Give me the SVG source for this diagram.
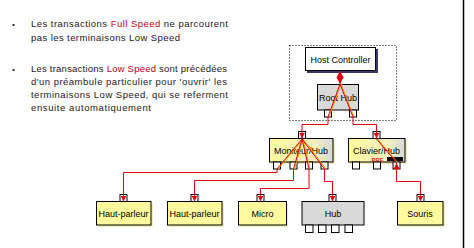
<svg xmlns="http://www.w3.org/2000/svg" width="474" height="248" viewBox="0 0 474 248">
<style>
.body{font-family:"Liberation Sans",Arial,sans-serif;font-size:9.5px;fill:#1a1a1a}
.hl{fill:#c00018}
.lbl{font-family:"Liberation Sans",Arial,sans-serif;font-size:9px;fill:#000;text-anchor:middle}
.node{stroke:#000;stroke-width:1}
.yel{fill:#fffa9e}
.gray{fill:#d9d9d9}
.shy{fill:#f3edbc}
.port{fill:#fff;stroke:#000;stroke-width:1}
.wire{fill:none;stroke:#e00010;stroke-width:1}
.fan{fill:none;stroke:#ff9a00;stroke-width:1}
</style>
<defs>
<linearGradient id="yg" x1="0" y1="0" x2="1" y2="0">
<stop offset="0" stop-color="#fffa9e"/>
<stop offset="0.7" stop-color="#f4f0c0"/>
<stop offset="1" stop-color="#d8d8d8"/>
</linearGradient>
<marker id="ah" viewBox="0 0 6 6" refX="6" refY="3" markerWidth="6" markerHeight="6" markerUnits="userSpaceOnUse" orient="auto">
<path d="M0,0 L6,3 L0,6 z" fill="#e00010"/>
</marker>
<marker id="ahs" viewBox="0 0 6 6" refX="0" refY="3" markerWidth="6" markerHeight="6" markerUnits="userSpaceOnUse" orient="auto">
<path d="M6,0 L0,3 L6,6 z" fill="#e00010"/>
</marker>
</defs>
<rect width="474" height="248" fill="#fff"/>
<line x1="463.5" y1="0" x2="463.5" y2="248" stroke="#000" stroke-width="1.5"/>

<g id="text">
<rect x="12.5" y="24" width="2" height="2" fill="#333"/>
<rect x="12.5" y="69" width="2" height="2" fill="#333"/>
<text class="body" x="31" y="27" textLength="197" lengthAdjust="spacing">Les transactions <tspan class="hl">Full Speed</tspan> ne parcourent</text>
<text class="body" x="31" y="40.5" textLength="149" lengthAdjust="spacing">pas les terminaisons Low Speed</text>
<text class="body" x="31" y="71.5" textLength="196" lengthAdjust="spacing">Les transactions <tspan class="hl">Low Speed</tspan> sont précédées</text>
<text class="body" x="31" y="84.5" textLength="196" lengthAdjust="spacing">d'un préambule particulier pour 'ouvrir' les</text>
<text class="body" x="31" y="97.5" textLength="197" lengthAdjust="spacing">terminaisons Low Speed, qui se referment</text>
<text class="body" x="31" y="110.5" textLength="120" lengthAdjust="spacing">ensuite automatiquement</text>
</g>

<rect x="289.5" y="45.5" width="107" height="75" fill="none" stroke="#000" stroke-width="1" stroke-dasharray="1,2"/>

<g id="host-controller">
<rect x="307" y="49" width="71" height="24" fill="#3a3a6a"/>
<rect class="node" x="305.5" y="47.5" width="70" height="23" fill="#fff"/>
<text class="lbl" x="340.5" y="62.5">Host Controller</text>
</g>

<g id="root-hub">
<rect class="node gray" x="317.5" y="84.5" width="41" height="25.5"/>
<text class="lbl" x="338" y="100.5">Root Hub</text>
<rect class="port" x="324.5" y="110" width="7" height="7"/>
<rect class="port" x="349.5" y="110" width="7" height="7"/>
</g>

<g id="moniteur-hub">
<rect class="shy" x="271" y="140" width="64" height="24"/>
<rect class="node" x="269.5" y="138.5" width="63.5" height="23.5" fill="url(#yg)"/>
<text class="lbl" x="301" y="153.5">Moniteur/Hub</text>
<rect class="port" x="298.5" y="131.5" width="7" height="7"/>
<rect class="port" x="273.5" y="162" width="7" height="7"/>
<rect class="port" x="290" y="162" width="7" height="7"/>
<rect class="port" x="305.5" y="162" width="7" height="7"/>
<rect class="port" x="321" y="162" width="7" height="7"/>
</g>

<g id="clavier-hub">
<rect class="shy" x="350" y="140" width="57" height="24"/>
<rect class="node" x="348.5" y="138.5" width="56.5" height="23.5" fill="url(#yg)"/>
<text class="lbl" x="376.5" y="153.5">Clavier/Hub</text>
<rect x="387" y="157" width="16" height="4" fill="#000"/>
<text x="371.5" y="161.5" font-family="Liberation Sans,Arial,sans-serif" font-size="6" font-weight="bold" fill="#e03020">PRE</text>
<rect class="port" x="373" y="131.5" width="7" height="7"/>
<rect class="port" x="352.5" y="162" width="7" height="7"/>
<rect class="port" x="373.5" y="162" width="7" height="7"/>
<rect class="port" x="393" y="162" width="7" height="7"/>
</g>

<g id="haut-parleur-1">
<rect class="shy" x="98" y="203" width="55" height="24"/>
<rect class="node yel" x="96.5" y="201.5" width="54.5" height="23.5"/>
<text class="lbl" x="123.5" y="216.5">Haut-parleur</text>
<rect class="port" x="120" y="194.5" width="7" height="7"/>
</g>

<g id="haut-parleur-2">
<rect class="shy" x="169" y="203" width="55" height="24"/>
<rect class="node yel" x="167.5" y="201.5" width="54.5" height="23.5"/>
<text class="lbl" x="194.5" y="216.5">Haut-parleur</text>
<rect class="port" x="191" y="194.5" width="7" height="7"/>
</g>

<g id="micro">
<rect class="shy" x="240" y="203" width="48" height="24"/>
<rect class="node yel" x="238.5" y="201.5" width="48" height="23.5"/>
<text class="lbl" x="262.5" y="216.5">Micro</text>
<rect class="port" x="257" y="194.5" width="7" height="7"/>
</g>

<g id="hub">
<rect class="node gray" x="302" y="201.5" width="62" height="23.5"/>
<text class="lbl" x="333" y="216.5">Hub</text>
<rect class="port" x="329" y="194.5" width="7" height="7"/>
<rect class="port" x="305.5" y="225" width="7.5" height="7.5"/>
<rect class="port" x="318.5" y="225" width="7.5" height="7.5"/>
<rect class="port" x="331.5" y="225" width="7.5" height="7.5"/>
<rect class="port" x="345" y="225" width="7.5" height="7.5"/>
</g>

<g id="souris">
<rect class="shy" x="399" y="203" width="46" height="24"/>
<rect class="node yel" x="397.5" y="201.5" width="45.5" height="23.5"/>
<text class="lbl" x="420" y="216.5">Souris</text>
<rect class="port" x="417" y="194.5" width="7" height="7"/>
</g>

<g id="connectors">
<path d="M340,71 L343.5,77.5 L340,84 L336.5,77.5 z" fill="#e00010"/>
<line x1="340" y1="71" x2="340" y2="84" stroke="#e00010" stroke-width="1"/>
<line class="fan" x1="341" y1="84" x2="329" y2="117"/>
<line class="fan" x1="341" y1="84" x2="354" y2="117"/>
<line class="wire" x1="340" y1="84" x2="328" y2="117"/>
<line class="wire" x1="340" y1="84" x2="353" y2="117"/>
<path class="wire" d="M328,117 V124.5 H302 V138.5" marker-end="url(#ah)"/>
<path class="wire" d="M353,117 V124.5 H376.5 V138.5" marker-end="url(#ah)"/>

<line class="fan" x1="303" y1="139" x2="278" y2="169"/>
<line class="fan" x1="303" y1="139" x2="294.5" y2="169"/>
<line class="fan" x1="303" y1="139" x2="310" y2="169"/>
<line class="fan" x1="303" y1="139" x2="326" y2="169"/>
<line class="wire" x1="302" y1="139" x2="277" y2="169"/>
<line class="wire" x1="302" y1="139" x2="293.5" y2="169"/>
<line class="wire" x1="302" y1="139" x2="309" y2="169"/>
<line class="wire" x1="302" y1="139" x2="324.5" y2="169"/>

<path class="wire" d="M277,169 V172.5 H123.5 V201.5" marker-end="url(#ah)"/>
<path class="wire" d="M293.5,169 V180.5 H194.5 V201.5" marker-end="url(#ah)"/>
<path class="wire" d="M309,169 V188.5 H260.5 V201.5" marker-end="url(#ah)"/>
<path class="wire" d="M324.5,169 V181.5 H332.5 V201.5" marker-end="url(#ah)"/>

<line class="fan" x1="377.5" y1="139" x2="398" y2="163"/>
<line class="wire" x1="376.5" y1="139" x2="397" y2="163"/>
<path class="wire" d="M396.5,163 V181.5 H420.5 V201.5" marker-start="url(#ahs)" marker-end="url(#ah)"/>
</g>
</svg>
